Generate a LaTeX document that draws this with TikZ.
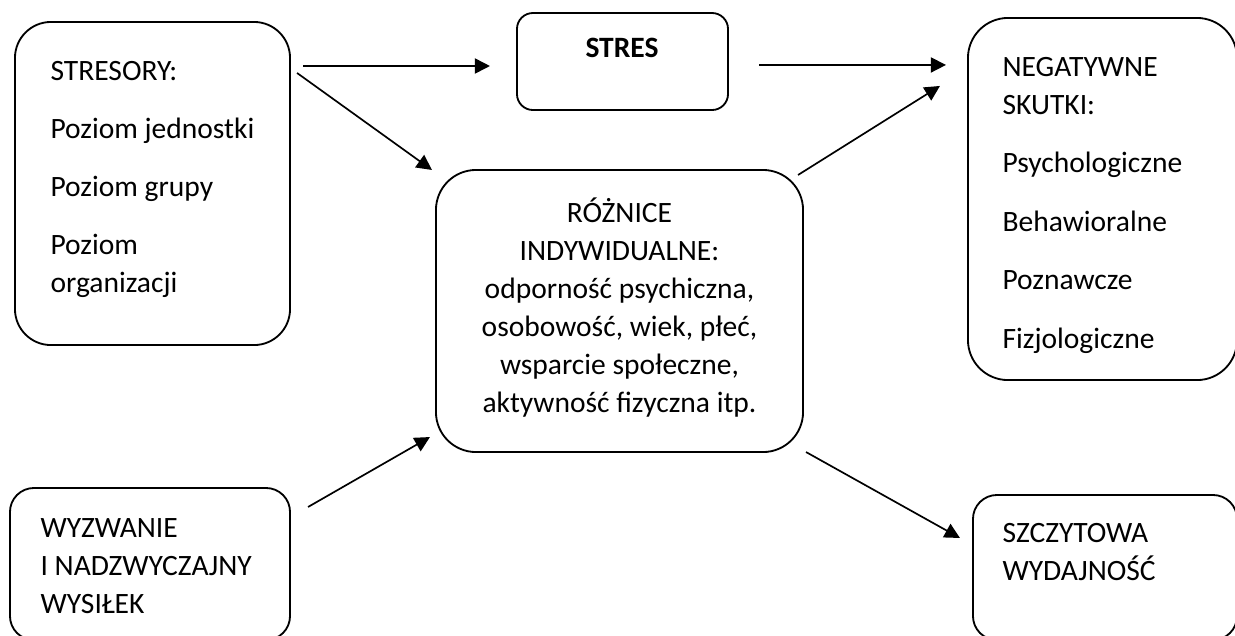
\documentclass[tikz,border=0pt]{standalone}
\usepackage{fontspec}
\setmainfont{Carlito}
\usepackage{tikz}
\usetikzlibrary{arrows.meta, positioning, calc}
\tikzset{
	blk/.style ={rectangle, draw=black, line width=0.65pt, inner sep=0pt, outer sep=0pt, rounded corners=0.5cm},
	txt/.style ={inner sep=0pt, font=\fontsize{10.5}{13.5}\selectfont},
	sig/.style ={-{Triangle[length=0.19cm, width=0.19cm]}, line width=0.6pt},
}

\begin{document}
\begin{tikzpicture}[x=0.0125cm, y=-0.0125cm]
	\useasboundingbox (0,0) rectangle (1235,635);
	% boxes
	\node[blk, rounded corners=0.45cm, minimum width=3.4375cm, minimum height=4.0375cm] (stresory) at (152.5,183.5) {};
	\node[blk, rounded corners=0.2cm, minimum width=2.6375cm, minimum height=1.2125cm] (stres) at (622.5,61.5) {};
	\node[blk, minimum width=3.3625cm, minimum height=4.525cm] (skutki) at (1102.5,199) {};
	\node[blk, minimum width=4.5875cm, minimum height=3.525cm] (roznice) at (619.5,311) {};
	\node[blk, rounded corners=0.3cm, minimum width=3.5cm, minimum height=1.9cm] (wyzwanie) at (150,564) {};
	\node[blk, rounded corners=0.3cm, minimum width=3.3cm, minimum height=1.8125cm] (szczyt) at (1105,567.5) {};
	% texts (anchored on the baseline of the last line)
	\node[txt, anchor=base west, align=left] (stresory-t) at (50,292)
		{STRESORY:\\[7.1pt]Poziom jednostki\\[7.1pt]Poziom grupy\\[7.1pt]Poziom\\organizacji};
	\node[txt, anchor=base] (stres-t) at (622,57) {\textbf{STRES}};
	\node[txt, anchor=base west, align=left] (skutki-t) at (1002,348)
		{NEGATYWNE\\SKUTKI:\\[7.3pt]Psychologiczne\\[7.3pt]Behawioralne\\[7.3pt]Poznawcze\\[7.3pt]Fizjologiczne};
	\node[txt, anchor=base, align=center] (roznice-t) at (619.5,412)
		{RÓŻNICE\\INDYWIDUALNE:\\odporność psychiczna,\\osobowość, wiek, płeć,\\wsparcie społeczne,\\aktywność fizyczna itp.};
	\node[txt, anchor=base west, align=left] (wyzwanie-t) at (40,613)
		{WYZWANIE\\I NADZWYCZAJNY\\WYSIŁEK};
	\node[txt, anchor=base west, align=left] (szczyt-t) at (1002,580)
		{SZCZYTOWA\\WYDAJNOŚĆ};
	% connectors
	\draw[sig] ($(stresory.north east)+(13,44)$) -- ($(stres.west)+(-27,4.5)$);
	\draw[sig] ($(stresory.north east)+(7,51)$) -- ($(roznice.north west)+(-4,0)$);
	\draw[sig] ($(stres.east)+(31,3.5)$) -- ($(skutki.north west)+(-22,47)$);
	\draw[sig] ($(roznice.north east)+(-5,5)$) -- ($(skutki.north west)+(-28,68)$);
	\draw[sig] ($(wyzwanie.north east)+(18,19)$) -- ($(roznice.south west)+(-6,-15)$);
	\draw[sig] ($(roznice.south east)+(3,0)$) -- ($(szczyt.north west)+(-13,43)$);
\end{tikzpicture}
\end{document}
